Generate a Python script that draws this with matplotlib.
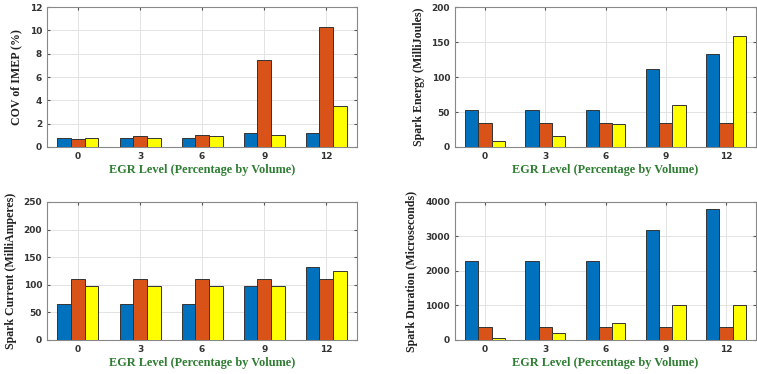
import numpy as np
import matplotlib
matplotlib.use('Agg')
import matplotlib.pyplot as plt

egr = ['0', '3', '6', '9', '12']

cov_blue = [0.75, 0.75, 0.75, 1.2, 1.2]
cov_orange = [0.7, 0.9, 1.0, 7.5, 10.3]
cov_yellow = [0.75, 0.8, 0.9, 1.0, 3.5]

energy_blue = [53, 53, 53, 111, 133]
energy_orange = [35, 35, 35, 35, 35]
energy_yellow = [9, 15, 33, 60, 158]

current_blue = [65, 65, 65, 98, 132]
current_orange = [110, 110, 110, 110, 110]
current_yellow = [98, 98, 98, 98, 125]

duration_blue = [2300, 2300, 2300, 3200, 3800]
duration_orange = [370, 370, 370, 370, 370]
duration_yellow = [70, 200, 500, 1000, 1000]

colors = ['#0072BD', '#D95319', '#FFFF00']
serif = 'Liberation Serif'

fig = plt.figure(figsize=(7.57, 3.74), dpi=100)

panels = [
    ([0.062, 0.607, 0.410, 0.374], (cov_blue, cov_orange, cov_yellow), 12, 2, 'COV of IMEP (%)'),
    ([0.601, 0.607, 0.398, 0.374], (energy_blue, energy_orange, energy_yellow), 200, 50, 'Spark Energy (MilliJoules)'),
    ([0.062, 0.091, 0.410, 0.369], (current_blue, current_orange, current_yellow), 250, 50, 'Spark Current (MilliAmperes)'),
    ([0.601, 0.091, 0.398, 0.369], (duration_blue, duration_orange, duration_yellow), 4000, 1000, 'Spark Duration (Microseconds)'),
]

x = np.arange(1, len(egr) + 1)
w = 0.22
for rect, series, ymax, step, ylabel in panels:
    ax = fig.add_axes(rect)
    for i, (vals, c) in enumerate(zip(series, colors)):
        ax.bar(x + (i - 1) * w, vals, w, color=c, edgecolor='#333333', linewidth=0.7, zorder=3)
    ax.set_xlim(0.5, 5.5)
    ax.set_ylim(0, ymax)
    ax.set_yticks(np.arange(0, ymax + step, step))
    ax.set_xticks(x)
    ax.set_xticklabels(egr)
    ax.grid(True, color='#e3e3e3', linewidth=0.7, zorder=0)
    ax.tick_params(labelsize=6.5, colors='#555555', length=2, direction='in', top=True, right=True)
    for lab in ax.get_xticklabels() + ax.get_yticklabels():
        lab.set_fontweight('bold')
        lab.set_color('#333333')
    for sp in ax.spines.values():
        sp.set_color('#888888')
        sp.set_linewidth(0.8)
    ax.set_ylabel(ylabel, family=serif, fontweight='bold', fontsize=8.6, color='#222222', labelpad=5)
    ax.set_xlabel('EGR Level (Percentage by Volume)', family=serif, fontweight='bold',
                  fontsize=8.8, color='#2E7D32', labelpad=2)

fig.savefig('out.png', dpi=100)
